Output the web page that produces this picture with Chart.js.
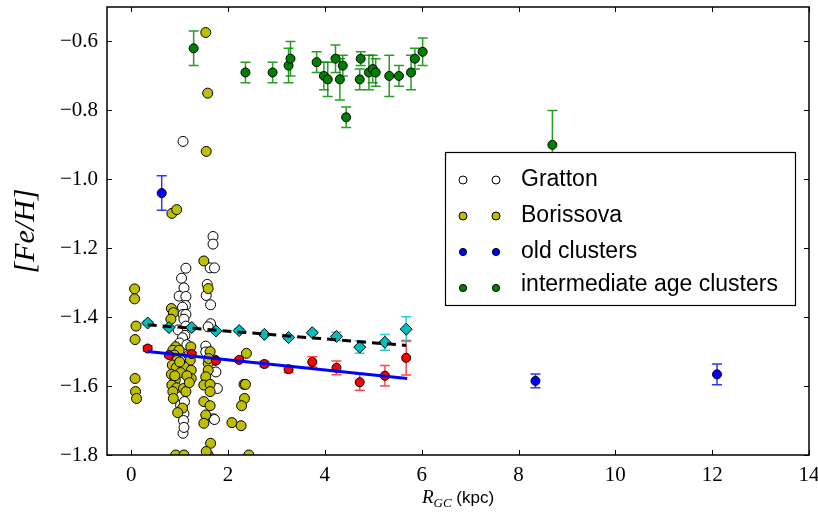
<!DOCTYPE html>
<html><head><meta charset="utf-8">
<script src="https://cdn.jsdelivr.net/npm/chart.js@4/dist/chart.umd.min.js"></script>
<style>html,body{margin:0;padding:0;background:#fff}canvas{display:block}</style>
</head><body>
<canvas id="c" width="818" height="512"></canvas>
<script>
// ---- tick values ----
const xTicks = [0, 2, 4, 6, 8, 10, 12, 14];
const yTicks = [-1.8, -1.6, -1.4, -1.2, -1.0, -0.8, -0.6];

// ---- Gratton (open circles) ----
const grattonX = [1.07,1.69,1.69,1.13,1.63,1.72,1.04,1.57,1.09,0.99,1.13,1.55,1.64,1.12,1.06,1.07,1.13,1.09,1.64,1.59,0.97,1.13,1.11,1.54,1.54,1.75,1.78,1.02,1.09,1.07,1.70,1.72,1.06,1.00,1.15,1.73,1.10,1.08,1.09];
const grattonY = [-0.89,-1.166,-1.188,-1.258,-1.257,-1.257,-1.287,-1.305,-1.315,-1.339,-1.34,-1.337,-1.364,-1.366,-1.371,-1.392,-1.392,-1.406,-1.419,-1.428,-1.437,-1.426,-1.453,-1.484,-1.501,-1.559,-1.607,-1.656,-1.68,-1.737,-1.695,-1.697,-1.46,-1.475,-1.48,-1.525,-1.645,-1.70,-1.72];

// ---- Borissova (yellow) ----
const borissovaX = [1.54,1.58,1.55,0.84,0.94,1.50,1.59,0.07,0.07,0.83,0.87,0.82,0.10,0.08,0.92,1.23,0.86,0.99,0.89,1.19,0.95,1.22,0.85,0.93,1.09,1.24,0.83,1.02,1.24,0.91,0.84,0.94,1.08,1.13,0.86,0.87,1.06,0.96,0.92,1.09,0.08,0.09,0.11,1.59,1.59,1.54,1.50,1.63,1.63,1.50,1.63,1.54,1.50,1.64,1.59,1.55,2.38,2.33,2.36,2.34,2.28,2.08,2.27,2.43,1.63,1.60,1.00,1.15,1.20,0.90];
const borissovaY = [-0.574,-0.75,-0.919,-1.099,-1.088,-1.237,-1.317,-1.318,-1.347,-1.375,-1.387,-1.406,-1.426,-1.465,-1.486,-1.486,-1.496,-1.496,-1.51,-1.51,-1.525,-1.525,-1.539,-1.547,-1.544,-1.554,-1.566,-1.561,-1.578,-1.583,-1.597,-1.605,-1.607,-1.616,-1.616,-1.636,-1.664,-1.677,-1.80,-1.80,-1.578,-1.616,-1.636,-1.534,-1.554,-1.573,-1.597,-1.595,-1.616,-1.645,-1.657,-1.684,-1.708,-1.766,-1.80,-1.79,-1.505,-1.595,-1.595,-1.636,-1.657,-1.706,-1.715,-1.80,-1.50,-1.52,-1.53,-1.57,-1.59,-1.57];

// ---- old clusters (blue, with errors) ----
const oldX = [0.63, 8.35, 12.1];
const oldY = [-1.04, -1.585, -1.566];
const oldErr = [0.05, 0.02, 0.03];

// ---- intermediate age clusters (green, with errors) ----
const interX = [1.29,2.36,2.92,3.25,3.29,3.83,3.98,4.06,4.22,4.31,4.37,4.44,4.72,4.74,4.91,4.99,5.05,5.33,5.53,5.78,5.86,6.02,8.70];
const interY = [-0.62,-0.69,-0.69,-0.67,-0.65,-0.66,-0.70,-0.71,-0.65,-0.71,-0.67,-0.82,-0.71,-0.65,-0.69,-0.68,-0.69,-0.70,-0.70,-0.69,-0.65,-0.63,-0.90];
const interErr = [0.05,0.03,0.03,0.05,0.05,0.03,0.04,0.05,0.04,0.06,0.03,0.03,0.03,0.02,0.05,0.04,0.04,0.06,0.03,0.05,0.03,0.04,0.10];

// ---- binned means (red circles, cyan diamonds) ----
const binX = [0.34,0.78,1.25,1.75,2.23,2.75,3.25,3.74,4.24,4.72,5.24,5.68];
const redY = [-1.491,-1.51,-1.507,-1.526,-1.524,-1.536,-1.551,-1.530,-1.547,-1.589,-1.570,-1.518];
const redErr = [0.008,0.005,0.005,0.005,0.005,0.008,0.01,0.015,0.02,0.023,0.03,0.05];
const cyanY = [-1.417,-1.43,-1.43,-1.44,-1.439,-1.45,-1.459,-1.445,-1.456,-1.487,-1.473,-1.435];
const cyanErr = [0.005,0.005,0.005,0.005,0.005,0.005,0.005,0.005,0.012,0.018,0.023,0.036];

// ---- linear fits ----
const blueFitX = [0.34, 5.70];
const blueFitY = [-1.500, -1.578];
const blackFitX = [0.34, 5.68];
const blackFitY = [-1.422, -1.482];

// ---- legend ----
const legendLabels = ['Gratton', 'Borissova', 'old clusters', 'intermediate age clusters'];

const pts = (xs, ys) => xs.map((x, i) => ({x, y: ys[i]}));

const errorBarPlugin = {
  id: 'errorBars',
  beforeDatasetDraw(chart, args) {
    const ds = chart.data.datasets[args.index];
    if (!ds.errY) return;
    const ctx = chart.ctx, xs = chart.scales.x, ys = chart.scales.y, a = chart.chartArea;
    ctx.save();
    ctx.beginPath(); ctx.rect(a.left, a.top, a.right - a.left, a.bottom - a.top); ctx.clip();
    ctx.strokeStyle = ds.errColor; ctx.lineWidth = 1.5;
    ds.data.forEach((p, i) => {
      const e = ds.errY[i];
      const px = xs.getPixelForValue(p.x);
      const y1 = ys.getPixelForValue(p.y + e), y2 = ys.getPixelForValue(p.y - e);
      ctx.beginPath();
      ctx.moveTo(px, y1); ctx.lineTo(px, y2);
      ctx.moveTo(px - 5, y1); ctx.lineTo(px + 5, y1);
      ctx.moveTo(px - 5, y2); ctx.lineTo(px + 5, y2);
      ctx.stroke();
    });
    ctx.restore();
  }
};

const framePlugin = {
  id: 'frame',
  afterDraw(chart) {
    const ctx = chart.ctx, a = chart.chartArea, xs = chart.scales.x, ys = chart.scales.y;
    ctx.save();
    ctx.strokeStyle = '#000'; ctx.lineWidth = 1.5;
    ctx.strokeRect(a.left, a.top, a.right - a.left, a.bottom - a.top);
    ctx.lineWidth = 1;
    ctx.beginPath();
    xTicks.forEach(v => {
      const px = Math.round(xs.getPixelForValue(v)) + 0.5;
      ctx.moveTo(px, a.bottom); ctx.lineTo(px, a.bottom - 5);
      ctx.moveTo(px, a.top); ctx.lineTo(px, a.top + 5);
    });
    yTicks.forEach(v => {
      const py = Math.round(ys.getPixelForValue(v)) + 0.5;
      ctx.moveTo(a.left, py); ctx.lineTo(a.left + 5, py);
      ctx.moveTo(a.right, py); ctx.lineTo(a.right - 5, py);
    });
    ctx.stroke();

    // x axis title: R_GC (kpc)
    const cx = (a.left + a.right) / 2, ty = 503;
    ctx.fillStyle = '#000'; ctx.textBaseline = 'alphabetic';
    const f1 = 'italic 19px "Liberation Serif"', f2 = 'italic 13px "Liberation Serif"', f3 = '17px "Liberation Sans"';
    ctx.font = f1; const wR = ctx.measureText('R').width;
    ctx.font = f2; const wG = ctx.measureText('GC').width;
    ctx.font = f3; const wK = ctx.measureText(' (kpc)').width;
    let x0 = cx - (wR + wG + wK) / 2;
    ctx.textAlign = 'left';
    ctx.font = f1; ctx.fillText('R', x0, ty); x0 += wR;
    ctx.font = f2; ctx.fillText('GC', x0, ty + 4); x0 += wG;
    ctx.font = f3; ctx.fillText(' (kpc)', x0, ty);

    // legend
    const lx = 445.5, ly = 152.5, lw = 350, lh = 153;
    ctx.fillStyle = '#fff'; ctx.fillRect(lx, ly, lw, lh);
    ctx.strokeStyle = '#000'; ctx.lineWidth = 1.2; ctx.strokeRect(lx, ly, lw, lh);
    const cols = ['#ffffff', '#bfbf00', '#0000ff', '#008000'];
    const radii = [4, 4, 3.6, 3.6];
    const rows = [180, 216, 252, 288];
    ctx.font = '23px "Liberation Sans"'; ctx.textBaseline = 'middle';
    legendLabels.forEach((t, i) => {
      [463, 496].forEach(mx => {
        ctx.beginPath(); ctx.arc(mx, rows[i], radii[i], 0, Math.PI * 2);
        ctx.fillStyle = cols[i]; ctx.fill();
        ctx.lineWidth = 1; ctx.strokeStyle = '#000'; ctx.stroke();
      });
      ctx.fillStyle = '#000';
      ctx.fillText(t, 521, rows[i] + (i === 3 ? -3 : 0));
    });
    ctx.restore();
  }
};

const fmtY = v => {
  const s = Math.abs(v).toFixed(1);
  return (v < 0 ? '\u2212' : '') + s;
};

new Chart(document.getElementById('c'), {
  type: 'scatter',
  data: {
    datasets: [
      {label: 'Gratton', data: pts(grattonX, grattonY), backgroundColor: '#ffffff', borderColor: '#000', borderWidth: 1, pointRadius: 5, order: 10},
      {label: 'Borissova', data: pts(borissovaX, borissovaY), backgroundColor: '#bfbf00', borderColor: '#000', borderWidth: 1, pointRadius: 5, order: 9},
      {label: 'old clusters', data: pts(oldX, oldY), errY: oldErr, errColor: 'rgba(0,0,255,0.8)', backgroundColor: '#0000ff', borderColor: '#000', borderWidth: 1, pointRadius: 4.5, order: 8},
      {label: 'intermediate age clusters', data: pts(interX, interY), errY: interErr, errColor: 'rgba(0,140,0,0.85)', backgroundColor: '#008000', borderColor: '#000', borderWidth: 1, pointRadius: 4.5, order: 7},
      {label: 'binned A', data: pts(binX, redY), errY: redErr, errColor: 'rgba(255,40,40,0.85)', backgroundColor: '#ff0000', borderColor: '#000', borderWidth: 1, pointRadius: 4.5, order: 6},
      {label: 'binned B', data: pts(binX, cyanY), errY: cyanErr, errColor: 'rgba(0,200,200,0.85)', backgroundColor: '#00bfbf', borderColor: '#000', borderWidth: 1, pointRadius: 6, pointStyle: 'rectRot', order: 5},
      {label: 'fit A', data: pts(blueFitX, blueFitY), showLine: true, borderColor: '#0000ff', borderWidth: 3, pointRadius: 0, fill: false, order: 2},
      {label: 'fit B', data: pts(blackFitX, blackFitY), showLine: true, borderColor: '#000', borderWidth: 3, borderDash: [9, 6], pointRadius: 0, fill: false, order: 1}
    ]
  },
  options: {
    responsive: false,
    animation: false,
    devicePixelRatio: 1,
    layout: {padding: {left: 0, right: 9, top: 6, bottom: 0}},
    plugins: {legend: {display: false}, tooltip: {enabled: false}},
    scales: {
      x: {
        type: 'linear', min: -0.5, max: 14,
        afterBuildTicks: s => { s.ticks = xTicks.map(v => ({value: v})); },
        afterFit: s => { s.height = 57; s.paddingLeft = 0; s.paddingRight = 0; },
        grid: {display: false, drawTicks: false},
        border: {display: false},
        ticks: {padding: 8, color: '#000', font: {family: '"Liberation Serif"', size: 21}, maxRotation: 0, callback: v => String(v)}
      },
      y: {
        type: 'linear', min: -1.8, max: -0.5,
        afterBuildTicks: s => { s.ticks = yTicks.map(v => ({value: v})); },
        afterFit: s => { s.width = 107; s.paddingTop = 0; s.paddingBottom = 0; },
        grid: {display: false, drawTicks: false},
        border: {display: false},
        title: {display: true, text: '[Fe/H]', color: '#000', font: {family: '"Liberation Serif"', size: 30, style: 'italic'}, padding: {top: 8, bottom: 0}},
        ticks: {padding: 9, color: '#000', font: {family: '"Liberation Serif"', size: 21}, callback: v => fmtY(v)}
      }
    }
  },
  plugins: [errorBarPlugin, framePlugin]
});
</script>
</body></html>
